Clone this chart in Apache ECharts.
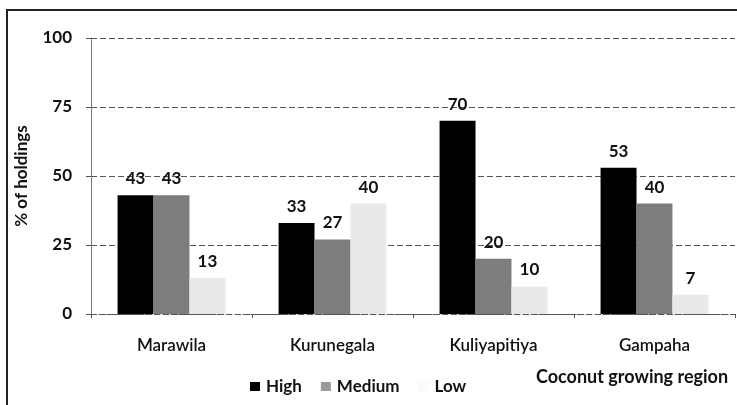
<!DOCTYPE html>
<html>
<head>
<meta charset="utf-8">
<script src="https://cdn.jsdelivr.net/npm/echarts@6/dist/echarts.min.js"></script>
<style>
  html, body { margin: 0; padding: 0; background: #fff; }
  #wrap { position: relative; width: 737px; height: 405px; }
  #frame { position: absolute; left: 6px; top: 9px; right: 0; bottom: -5px;
           border-left: 2px solid #222; border-top: 2px solid #222; }
  #chart { position: absolute; left: 0; top: 0; width: 737px; height: 405px; }
</style>
</head>
<body>
<div id="wrap">
  <div id="frame"></div>
  <div id="chart"></div>
</div>
<script>
// data
const regions = ['Marawila', 'Kurunegala', 'Kuliyapitiya', 'Gampaha'];
const high = [43, 33, 70, 53];
const medium = [43, 27, 20, 40];
const low = [13, 40, 10, 7];
const yTicks = [0, 25, 50, 75, 100];

const font = 'Lato, "DejaVu Sans", sans-serif';
let myChart = echarts.init(document.getElementById('chart'));

function barSeries(name, values, color) {
  return {
    name: name,
    type: 'bar',
    data: values,
    barGap: '0%',
    barCategoryGap: '33%',
    itemStyle: { color: color },
    label: {
      show: true,
      position: 'top',
      distance: 8,
      color: '#111',
      fontFamily: font,
      fontSize: 17,
      fontWeight: 'bold'
    }
  };
}

myChart.setOption({
  animation: false,
  textStyle: { fontFamily: font },
  title: {
    text: 'Coconut growing region',
    left: 536,
    top: 368,
    padding: 0,
    textStyle: { fontFamily: font, fontSize: 18, fontWeight: 'bold', color: '#111' }
  },
  legend: {
    left: 250,
    top: 378,
    padding: 0,
    itemWidth: 10,
    itemHeight: 9,
    itemGap: 19,
    icon: 'rect',
    textStyle: { fontFamily: font, fontSize: 17, fontWeight: 'bold', color: '#111', padding: [0, 0, 0, 1] },
    data: [
      { name: 'High' },
      { name: 'Medium', itemStyle: { color: '#9a9a9a' } },
      { name: 'Low', itemStyle: { color: '#fafafa' } }
    ]
  },
  grid: { left: 91, top: 38, width: 644, height: 276, containLabel: false },
  xAxis: {
    type: 'category',
    data: regions,
    axisLine: { lineStyle: { color: '#555', type: [5, 3], width: 1 } },
    axisTick: { show: true, length: 4, lineStyle: { color: '#555' } },
    axisLabel: { margin: 23, color: '#111', fontFamily: font, fontSize: 17, fontWeight: 600 }
  },
  yAxis: {
    type: 'value',
    min: yTicks[0],
    max: yTicks[yTicks.length - 1],
    interval: 25,
    name: '% of holdings',
    nameLocation: 'middle',
    nameRotate: 90,
    nameGap: 61,
    nameTextStyle: { fontFamily: font, fontSize: 17, fontWeight: 'bold', color: '#111' },
    axisLine: { show: true, lineStyle: { color: '#777', width: 1 } },
    axisTick: { show: true, length: 5, lineStyle: { color: '#555' } },
    axisLabel: { margin: 19, color: '#111', fontFamily: font, fontSize: 17, fontWeight: 'bold' },
    splitLine: { show: true, lineStyle: { color: '#555', type: [6, 3], width: 1 } }
  },
  series: [
    barSeries('High', high, '#000'),
    barSeries('Medium', medium, '#7d7d7d'),
    barSeries('Low', low, '#e9e9e9')
  ]
});

window.onresize = function () {
  myChart.resize();
};
</script>
</body>
</html>
